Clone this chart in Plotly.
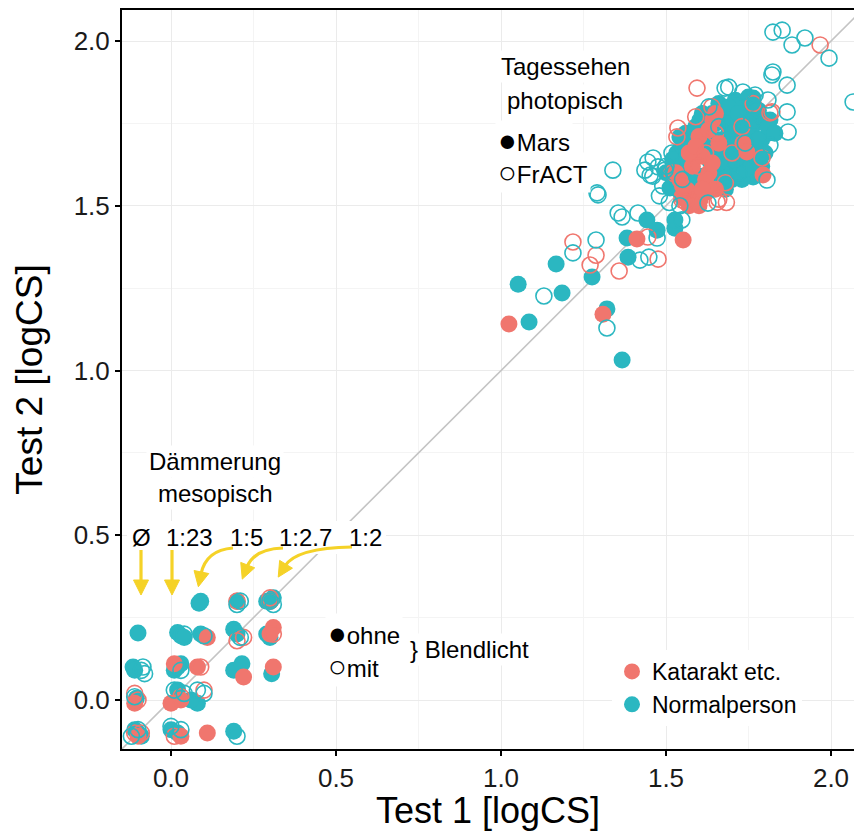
import plotly.graph_objects as go

# ---------------- data ----------------
# photopic (Tagessehen) + mesopic (Dämmerung) measurements, Test 1 vs Test 2 [logCS]
norm_mars_x = [1.442, 1.473, 1.527, 1.382, 1.512, 1.385, 1.276, 1.167, 1.052, 1.185, 1.085, 1.321, 1.367, 1.527,
               1.518, 1.533, 1.542, 1.542, 1.56, 1.58, 1.60, 1.603, 1.62, 1.63, 1.64, 1.65, 1.66, 1.67, 1.68, 1.69,
               1.70, 1.70, 1.71, 1.72, 1.73, 1.74, 1.745, 1.75, 1.764, 1.764, 1.77, 1.785, 1.79, 1.80, 1.815, 1.78,
               1.66, 1.68, 1.62, 1.58, 1.71, 1.74, 1.76, 1.81, 1.69, 1.64, 1.66, 1.73, 1.57, 1.60, 1.65, 1.70, 1.755, 1.79,
               1.50, 1.52, 1.55, 1.56, 1.59, 1.61, 1.63, 1.67, 1.68, 1.69, 1.72, 1.72, 1.75, 1.76, 1.78, 1.80,
               1.81, 1.83, 1.77, 1.74, 1.70, 1.67, 1.63, 1.59, 1.75, 1.78, 1.62, 1.66, 1.71, 1.68,
               0.085, 0.09, 0.20, 0.30, 0.31, 0.29,
               -0.10, 0.02, 0.03, 0.04, 0.09, 0.19, 0.20, 0.29, 0.30,
               -0.115, -0.11, 0.01, 0.03, 0.02, 0.19, 0.215, 0.305,
               -0.105, 0.02, 0.08, 0.06,
               -0.10, -0.11, -0.09, 0.0, 0.02, 0.19]
norm_mars_y = [1.457, 1.426, 1.432, 1.402, 1.554, 1.344, 1.284, 1.323, 1.262, 1.235, 1.147, 1.187, 1.032, 1.457,
               1.557, 1.660, 1.624, 1.709, 1.64, 1.60, 1.66, 1.760, 1.72, 1.68, 1.62, 1.75, 1.70, 1.65, 1.78, 1.72,
               1.68, 1.62, 1.76, 1.66, 1.73, 1.80, 1.608, 1.70, 1.827, 1.587, 1.75, 1.599, 1.70, 1.76, 1.760, 1.66,
               1.58, 1.55, 1.57, 1.70, 1.82, 1.64, 1.72, 1.72, 1.64, 1.78, 1.81, 1.58, 1.54, 1.59, 1.66, 1.72, 1.78, 1.62,
               1.60, 1.64, 1.68, 1.72, 1.74, 1.78, 1.74, 1.76, 1.70, 1.80, 1.78, 1.70, 1.74, 1.68, 1.70, 1.66,
               1.74, 1.72, 1.62, 1.61, 1.58, 1.60, 1.64, 1.57, 1.83, 1.79, 1.69, 1.63, 1.64, 1.67,
               0.294, 0.30, 0.30, 0.30, 0.31, 0.30,
               0.203, 0.205, 0.195, 0.19, 0.20, 0.215, 0.20, 0.20, 0.19,
               0.10, 0.09, 0.09, 0.11, 0.10, 0.09, 0.11, 0.08,
               0.005, 0.03, -0.01, 0.00,
               -0.10, -0.09, -0.11, -0.09, -0.10, -0.095]

norm_fract_x = [1.294, 1.355, 1.367, 1.415, 1.473, 1.288, 1.218, 1.421, 1.448, 1.130, 1.321, 1.548, 1.339, 1.291,
                1.445, 1.476, 1.46, 1.49, 1.497, 1.436, 1.452, 1.518, 1.461, 1.679, 1.733, 1.770, 1.821, 1.867,
                1.809, 1.867, 1.870, 1.824, 1.852, 1.882, 1.921, 1.994, 2.067, 1.824, 1.815, 1.806, 1.627, 1.542,
                1.69, 1.48, 1.51, 1.50, 1.55, 1.74, 1.66, 1.72, 1.63, 1.76,
                0.20, 0.21, 0.30, 0.31, 0.21, 0.04, 0.10,
                -0.09, -0.08, -0.085, 0.03,
                -0.11, 0.01, 0.04, 0.08, 0.10,
                -0.10, -0.12, 0.0, 0.03, 0.20]
norm_fract_y = [1.533, 1.478, 1.466, 1.478, 1.402, 1.396, 1.357, 1.335, 1.344, 1.226, 1.129, 1.457, 1.608, 1.539,
                1.633, 1.618, 1.59, 1.56, 1.608, 1.608, 1.593, 1.660, 1.645, 1.857, 1.845, 1.836, 1.897, 1.866,
                1.821, 1.785, 1.724, 2.027, 2.033, 1.988, 2.009, 1.948, 1.815, 1.906, 1.684, 1.578, 1.508, 1.50,
                1.86, 1.53, 1.51, 1.62, 1.58, 1.69, 1.74, 1.60, 1.80, 1.76,
                0.29, 0.30, 0.30, 0.29, 0.19, 0.20, 0.195,
                0.09, 0.08, 0.10, 0.09,
                0.01, 0.03, 0.02, 0.03, 0.02,
                -0.09, -0.11, -0.08, -0.09, -0.11]

kat_mars_x = [1.552, 1.412, 1.024, 1.309, 1.552, 1.548, 1.582, 1.624, 1.603, 1.642, 1.733, 1.745, 1.794, 1.542,
              1.564, 1.603, 1.58, 1.61, 1.63, 1.66, 1.60, 1.62, 1.57, 1.65, 1.53,
              1.55, 1.57, 1.59, 1.61, 1.64, 1.59, 1.63, 1.60, 1.65,
              0.11, 0.31, 0.01, 0.08, 0.22, 0.31, -0.11, 0.0, 0.03, -0.10, 0.03, 0.11, 0.30]
kat_mars_y = [1.396, 1.399, 1.141, 1.171, 1.523, 1.527, 1.533, 1.542, 1.518, 1.760, 1.690, 1.663, 1.593, 1.578,
              1.548, 1.539, 1.62, 1.65, 1.60, 1.69, 1.71, 1.58, 1.66, 1.55, 1.60,
              1.56, 1.50, 1.52, 1.55, 1.63, 1.68, 1.73, 1.50, 1.78,
              0.19, 0.22, 0.11, 0.10, 0.07, 0.10, -0.01, -0.01, 0.0, -0.11, -0.11, -0.10, 0.20]

kat_fract_x = [1.445, 1.218, 1.288, 1.270, 1.358, 1.476, 1.594, 1.639, 1.764, 1.821, 1.536, 1.533, 1.548, 1.655,
               1.815, 1.791, 1.518, 1.560, 1.58, 1.66, 1.683, 1.967, 1.59, 1.68, 1.62, 1.65, 1.70, 1.60, 1.73,
               0.20, 0.30, 0.20, 0.22, 0.31, 0.09, -0.11, -0.10, 0.03, 0.10, -0.09, -0.11, 0.01, 0.30]
kat_fract_y = [1.405, 1.390, 1.350, 1.320, 1.302, 1.338, 1.857, 1.800, 1.81, 1.785, 1.736, 1.709, 1.518, 1.511,
               1.782, 1.645, 1.599, 1.511, 1.51, 1.52, 1.51, 1.988, 1.77, 1.57, 1.66, 1.72, 1.66, 1.62, 1.74,
               0.30, 0.31, 0.18, 0.19, 0.20, 0.10, 0.02, 0.0, 0.01, 0.03, -0.10, -0.10, -0.11, 0.30]

group_names = ["Katarakt etc.", "Normalperson"]
tick_vals = [0.0, 0.5, 1.0, 1.5, 2.0]
ratio_labels = ["Ø", "1:23", "1:5", "1:2.7", "1:2"]

# ---------------- style ----------------
RED = "#F0766E"
TEAL = "#2BB7C1"
YEL = "#F5D227"
FONT = "Liberation Sans, Arial, Helvetica, sans-serif"
MS = 17

# pixel <-> data helpers for annotation placement (layout only)
X0PX, XS = 171.0, 330.0
Y0PX, YS = 700.0, 329.5
def dx(px):
    return (px - X0PX) / XS
def dy(py):
    return (Y0PX - py) / YS

fig = go.Figure()
# identity line
fig.add_trace(go.Scatter(x=[-0.3, 2.3], y=[-0.3, 2.3], mode="lines",
                         line=dict(color="#C4C4C4", width=1.6), showlegend=False, hoverinfo="skip"))

fig.add_trace(go.Scatter(x=norm_mars_x, y=norm_mars_y, mode="markers", name=group_names[1],
                         marker=dict(symbol="circle", size=MS, color=TEAL), legendrank=2))
fig.add_trace(go.Scatter(x=kat_mars_x, y=kat_mars_y, mode="markers", name=group_names[0],
                         marker=dict(symbol="circle", size=MS, color=RED), legendrank=1))
fig.add_trace(go.Scatter(x=kat_fract_x, y=kat_fract_y, mode="markers", showlegend=False,
                         marker=dict(symbol="circle-open", size=MS - 1, color=RED, line=dict(width=1.6))))
fig.add_trace(go.Scatter(x=norm_fract_x, y=norm_fract_y, mode="markers", showlegend=False,
                         marker=dict(symbol="circle-open", size=MS - 1, color=TEAL, line=dict(width=1.6))))

BULLET = '<span style="font-size:31px">{}</span>'
annots = []
def txt(text, px, py, xanchor="center", size=24, bg="white"):
    annots.append(dict(text=text, x=dx(px), y=dy(py), xref="x", yref="y", showarrow=False,
                       xanchor=xanchor, yanchor="middle", bgcolor=bg, borderpad=2,
                       font=dict(family=FONT, size=size, color="black")))

txt("Tagessehen", 565, 66)
txt("photopisch", 565, 100)
txt(BULLET.format("●") + "Mars", 495, 140, "left")
txt(BULLET.format("○") + "FrACT", 495, 172, "left")
txt("Dämmerung", 215, 461)
txt("mesopisch", 215, 493)
txt(BULLET.format("●") + "ohne", 325, 633, "left")
txt(BULLET.format("○") + "mit", 325, 666, "left")
txt("} Blendlicht", 407, 649, "left")

shapes = []
# white band behind the ratio labels (as in the reference's label boxes)
shapes.append(dict(type="rect", xref="x", yref="y", x0=dx(127), x1=dx(386), y0=dy(521), y1=dy(554),
                   fillcolor="white", line=dict(width=0), layer="above"))
for lab, cx in zip(ratio_labels, [141, 189, 246, 305, 365]):
    txt(lab, cx, 537, bg="rgba(0,0,0,0)")

# yellow arrows (shaft paths + triangular heads), in pixel space converted to data
def head(tipx, tipy, ux, uy, L=15, W=7.5):
    n = (ux * ux + uy * uy) ** 0.5
    ux, uy = ux / n, uy / n
    bx, by = tipx - ux * L, tipy - uy * L
    px_, py_ = -uy, ux
    pts = [(tipx, tipy), (bx + px_ * W, by + py_ * W), (bx - px_ * W, by - py_ * W)]
    p = "M " + " L ".join(f"{dx(a):.5f},{dy(b):.5f}" for a, b in pts) + " Z"
    shapes.append(dict(type="path", path=p, xref="x", yref="y", fillcolor=YEL,
                       line=dict(color=YEL, width=1), layer="above"))

def curve(p0, c, p1):
    p = (f"M {dx(p0[0]):.5f},{dy(p0[1]):.5f} Q {dx(c[0]):.5f},{dy(c[1]):.5f} "
         f"{dx(p1[0]):.5f},{dy(p1[1]):.5f}")
    shapes.append(dict(type="path", path=p, xref="x", yref="y",
                       line=dict(color=YEL, width=3.2), layer="above"))

# straight arrows
for ax_ in [141, 172]:
    curve((ax_, 550), (ax_, 565), (ax_, 582))
    head(ax_, 595, 0, 1)
# curved arrows
for p0, c, p1 in [((233, 548), (206, 550), (201, 574)),
                  ((283, 548), (254, 549), (247, 567)),
                  ((352, 547), (296, 548), (285, 566))]:
    curve(p0, c, p1)
    ux, uy = p1[0] - c[0], p1[1] - c[1]
    n = (ux * ux + uy * uy) ** 0.5
    head(p1[0] + ux / n * 13, p1[1] + uy / n * 13, ux, uy)

axis_common = dict(
    showline=True, linecolor="black", linewidth=2,
    ticks="outside", ticklen=5, tickwidth=1.5, tickcolor="black",
    showgrid=True, gridcolor="#EBEBEB", gridwidth=1, zeroline=False,
    tickvals=tick_vals, tickformat=".1f",
    tickfont=dict(family=FONT, size=26, color="#1A1A1A"),
    minor=dict(dtick=0.25, tick0=0, showgrid=True, gridcolor="#F4F4F4", gridwidth=1, ticks=""),
)

fig.update_layout(
    width=854, height=831,
    margin=dict(l=122, r=0, t=10, b=82),
    plot_bgcolor="white", paper_bgcolor="white",
    font=dict(family=FONT),
    xaxis=dict(range=[dx(122), dx(854)], mirror=True,
               title=dict(text="Test 1 [logCS]", font=dict(family=FONT, size=36, color="black"), standoff=11),
               **axis_common),
    yaxis=dict(range=[dy(749), dy(10)], mirror=False,
               title=dict(text="Test 2 [logCS]", font=dict(family=FONT, size=37, color="black"), standoff=20),
               **axis_common),
    legend=dict(x=(612 - 122) / 732, y=(749 - 650) / 739, xanchor="left", yanchor="top",
                bgcolor="white", borderwidth=0, font=dict(family=FONT, size=23, color="black"),
                itemsizing="trace", tracegroupgap=0, traceorder="normal"),
    annotations=annots, shapes=shapes,
)

fig.write_html("out.html")
